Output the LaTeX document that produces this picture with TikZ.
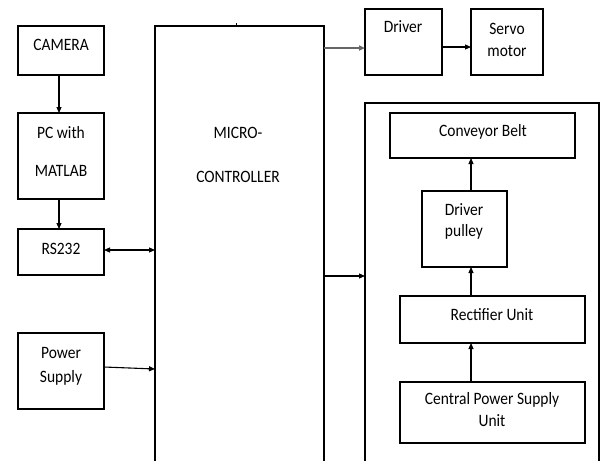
\documentclass[tikz,border=0pt]{standalone}
\usepackage{fontspec}
\setmainfont{Carlito}
\usetikzlibrary{arrows.meta}
\begin{document}
\begin{tikzpicture}[x=1pt,y=-1pt,
  blk/.style={draw,line width=1.2pt,inner sep=0pt},
  lbl/.style={font=\fontsize{15.5}{17}\selectfont,inner sep=0pt,yscale=1.12},
  arr/.style={line width=1.1pt,-{Triangle[length=6pt,width=5pt]}},
  darr/.style={line width=1.1pt,{Triangle[length=6pt,width=5pt]}-{Triangle[length=6pt,width=5pt]}}]
\useasboundingbox (0,0) rectangle (602,461);
% left column
\draw[blk] (18,26) rectangle (104,75);
\node[lbl] (cam) at (61,45) {CAMERA};
\coordinate (camB) at (59,75);
\draw[blk] (18,113) rectangle (104,199);
\node[lbl] at (61,133) {PC with};
\node[lbl] at (61,171) {MATLAB};
\coordinate (pcT) at (59,113);
\coordinate (pcB) at (59,199);
\draw[blk] (18,229) rectangle (104,275);
\node[lbl] (rs) at (61,249) {RS232};
\coordinate (rsT) at (59,229);
\coordinate (rsR) at (104,250);
\draw[blk] (18,333) rectangle (104,409);
\node[lbl] at (61,353) {Power};
\node[lbl] at (61,378) {Supply};
\coordinate (psR) at (104,367);
% microcontroller (open at the bottom)
\draw[blk] (155,461) -- (155,26) -- (324,26) -- (324,461);
\draw[line width=0.8pt] (236,23) -- (236,26);
\node[lbl] at (238,133) {MICRO-};
\node[lbl] at (238,177) {CONTROLLER};
\coordinate (mcL1) at (155,250);
\coordinate (mcL2) at (155,369);
\coordinate (mcR1) at (324,48);
\coordinate (mcR2) at (324,276);
% driver and servo
\draw[blk] (365,9) rectangle (442,75);
\node[lbl] at (403,27) {Driver};
\coordinate (drvL) at (365,48);
\coordinate (drvR) at (442,47);
\draw[blk] (471,9) rectangle (543,75);
\node[lbl] at (507,29) {Servo};
\node[lbl] at (507,51) {motor};
\coordinate (srvL) at (471,47);
% conveyor subsystem (open at the bottom)
\draw[blk] (365,461) -- (365,103) -- (599,103) -- (599,461);
\coordinate (sysL) at (365,276);
\draw[blk] (390,113) rectangle (575,158);
\node[lbl] at (483,132) {Conveyor Belt};
\coordinate (cbB) at (471,158);
\draw[blk] (422,191) rectangle (507,267);
\node[lbl] at (464,210) {Driver};
\node[lbl] at (464,232) {pulley};
\coordinate (dpT) at (471,191);
\coordinate (dpB) at (471,267);
\draw[blk] (400,296) rectangle (585,343);
\node[lbl] at (492,315) {Rectifier Unit};
\coordinate (rcT) at (471,296);
\coordinate (rcB) at (471,343);
\draw[blk] (400,382) rectangle (585,443);
\node[lbl] at (492,400) {Central Power Supply};
\node[lbl] at (492,421) {Unit};
\coordinate (cpT) at (471,382);
% connectors
\draw[arr] (camB) -- (pcT);
\draw[arr] (pcB) -- (rsT);
\draw[darr] (rsR) -- (mcL1);
\draw[arr] (psR) -- (mcL2);
\draw[arr,draw=black!60,line width=1.5pt] (mcR1) -- (drvL);
\draw[arr] (drvR) -- (srvL);
\draw[arr] (mcR2) -- (sysL);
\draw[arr] (dpT) -- (cbB);
\draw[arr] (rcT) -- (dpB);
\draw[arr] (cpT) -- (rcB);
\end{tikzpicture}
\end{document}
